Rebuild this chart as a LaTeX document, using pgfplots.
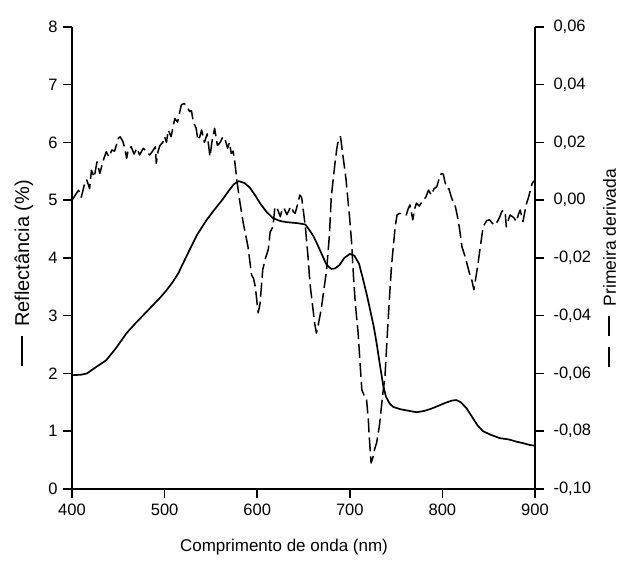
\documentclass[border=0pt]{standalone}
\usepackage{pgfplots}
\pgfplotsset{compat=1.18}
\usepackage{fontspec}
\setmainfont{Liberation Sans}
\pgfplotstableread{
x y
400 1.97
410 1.98
416 2.00
425 2.10
437 2.23
448 2.45
459 2.70
468 2.86
477 3.01
486 3.16
495 3.31
502 3.44
509 3.59
515 3.74
520 3.91
527 4.14
535 4.40
545 4.65
553 4.82
562 5.00
570 5.18
575 5.28
580 5.33
586 5.30
592 5.22
598 5.08
603 4.95
610 4.80
617 4.69
625 4.64
632 4.62
639 4.61
645 4.60
652 4.58
657 4.47
661 4.37
666 4.20
671 4.02
675 3.88
680 3.81
684 3.82
689 3.88
694 4.00
700 4.07
705 4.04
710 3.90
714 3.65
718 3.39
722 3.10
726 2.80
729 2.52
733 2.10
736 1.80
739 1.60
743 1.48
747 1.42
755 1.38
765 1.35
772 1.33
780 1.35
788 1.39
794 1.43
803 1.49
810 1.53
815 1.54
820 1.50
826 1.40
832 1.25
838 1.10
844 1.00
852 0.94
862 0.88
871 0.86
880 0.82
888 0.79
895 0.76
900 0.75
}\refl
\pgfplotstableread{
x d
400 0.000
404 0.002
407 0.0035
410 0.001
413 0.005
416 0.007
419 0.004
421 0.0104
424 0.008
427 0.0133
430 0.0093
434 0.014
437 0.0168
440 0.015
443 0.0174
446 0.017
450 0.0214
452 0.022
455 0.0203
457 0.018
459 0.0145
461 0.018
464 0.0185
467 0.016
470 0.018
473 0.0157
477 0.018
480 0.017
484 0.0157
487 0.017
490 0.0185
491 0.0128
493 0.017
495 0.019
498 0.020
500 0.022
502 0.020
504 0.0243
507 0.022
511 0.0283
514 0.027
518 0.033
521 0.0335
524 0.0326
527 0.0307
529 0.031
531 0.0272
534 0.025
536 0.0208
538 0.022
540 0.0243
543 0.020
546 0.023
549 0.0151
551 0.020
554 0.0249
557 0.019
560 0.020
563 0.022
565 0.0214
568 0.018
570 0.020
572 0.0162
574 0.017
576 0.0128
578 0.007
581 0.000
585 -0.008
590 -0.016
594 -0.026
596 -0.027
598 -0.030
601 -0.039
603 -0.036
606 -0.024
609 -0.020
612 -0.017
614 -0.011
617 -0.0092
619 -0.0028
621 -0.0022
623 -0.004
625 -0.0057
627 -0.003
629 -0.0027
632 -0.005
635 -0.003
637 -0.0022
639 -0.004
641 -0.0045
644 -0.001
646 0.0018
648 0.001
650 -0.004
652 -0.0092
655 -0.020
657 -0.0288
660 -0.037
662 -0.0426
664 -0.046
666 -0.043
669 -0.038
672 -0.031
675 -0.024
678 -0.012
680 0.0012
682 0.007
684 0.0128
686 0.018
688 0.0214
690 0.022
692 0.0168
694 0.012
696 0.007
698 0.000
700 -0.0068
702 -0.0149
704 -0.0265
706 -0.036
709 -0.046
711 -0.056
713 -0.0657
716 -0.068
718 -0.0686
720 -0.076
721 -0.0818
723 -0.091
725 -0.089
727 -0.086
729 -0.084
732 -0.078
734 -0.072
736 -0.066
738 -0.061
741 -0.0437
743 -0.033
745 -0.023
747 -0.016
749 -0.0092
751 -0.0051
754 -0.0045
757 -0.005
761 -0.0051
763 -0.003
765 -0.0016
768 -0.0068
770 -0.003
772 -0.001
775 -0.002
779 0.000
782 0.001
785 0.0035
788 0.0018
791 0.004
794 0.0047
797 0.008
799 0.0093
801 0.009
803 0.006
805 0.0041
807 0.004
810 0.0007
814 -0.0022
817 -0.0068
819 -0.011
821 -0.016
824 -0.019
826 -0.0213
829 -0.025
832 -0.028
834 -0.031
836 -0.027
838 -0.023
841 -0.016
844 -0.0092
846 -0.008
848 -0.007
851 -0.0068
854 -0.008
857 -0.0086
860 -0.007
862 -0.0057
864 -0.004
866 -0.0034
868 -0.005
869 -0.0092
871 -0.007
873 -0.0051
877 -0.006
880 -0.0074
882 -0.005
884 -0.0034
886 -0.006
887 -0.0074
889 -0.004
891 -0.001
893 0.001
895 0.0035
897 0.0059
900 0.007
}\deriv
\begin{document}
\begin{tikzpicture}
\pgfplotsset{
  common/.style={
    scale only axis, width=463pt, height=462pt,
    at={(0pt,0pt)}, anchor=south west,
    xmin=400, xmax=900,
    axis line style={-, line width=1.5pt},
    tick style={line width=1.5pt, black},
    tick align=outside,
    major tick length=9pt,
    tick label style={font=\fontsize{16.5}{19}\selectfont},
    /pgf/number format/assume math mode=true,
  }
}
\begin{axis}[common,
  axis y line*=left, axis x line*=bottom,
  ymin=0, ymax=8, ytick={0,1,2,3,4,5,6,7,8},
  xtick={400,500,600,700,800,900},
  xticklabel style={yshift=-2pt},
  yticklabel style={xshift=-2pt},
]
\addplot[black, line width=1.7pt, line join=round] table[x=x,y=y]{\refl};
\end{axis}
\begin{axis}[common,
  axis y line*=right, axis x line=none,
  ymin=-0.1, ymax=0.06,
  ytick={-0.1,-0.08,-0.06,-0.04,-0.02,0,0.02,0.04,0.06},
  yticklabels={{-0,10},{-0,08},{-0,06},{-0,04},{-0,02},{0,00},{0,02},{0,04},{0,06}},
  yticklabel style={xshift=6pt},
]
\addplot[black, line width=1.5pt, dash pattern=on 14pt off 5pt, line join=round] table[x=x,y=d]{\deriv};
\end{axis}
\node[rotate=90, font=\fontsize{20}{24}\selectfont] at (-48pt,216pt) {\rule[0.33em]{30pt}{1.6pt}\hspace{9pt}Reflectância (\%)};
\node[rotate=90, font=\fontsize{17.5}{21}\selectfont] at (537.5pt,221pt) {\rule[0.33em]{20pt}{1.5pt}\hspace{11pt}\rule[0.33em]{20pt}{1.5pt}\hspace{10pt}Primeira derivada};
\node[font=\fontsize{17}{20}\selectfont] at (212pt,-58pt) {Comprimento de onda (nm)};
\pgfresetboundingbox
\path (-72pt,-73pt) rectangle (547pt,489pt);
\end{tikzpicture}
\end{document}
